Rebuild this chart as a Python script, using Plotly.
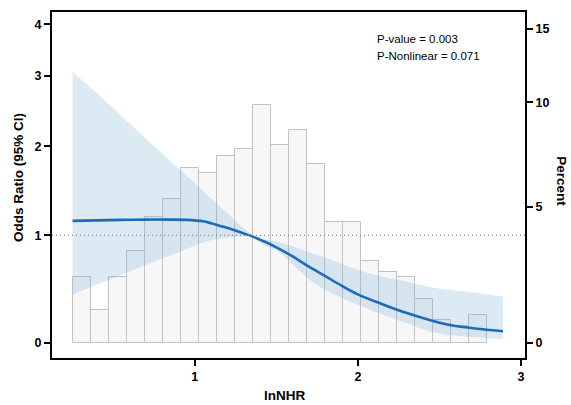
import plotly.graph_objects as go

# ---------------- data ----------------
# histogram of lnNHR (percent per bin)
bin_start = 0.254
bin_width = 0.1103
pct_values = [2.27, 1.12, 2.27, 3.23, 4.59, 5.34, 6.67, 6.47, 7.24, 7.60, 9.82, 7.79,
              8.52, 6.86, 4.38, 4.38, 2.85, 2.45, 2.27, 1.50, 0.76, 0.57, 0.95]

# RCS curve: odds ratio and 95% CI
x_curve = [0.25, 0.40, 0.55, 0.70, 0.85, 0.95, 1.05, 1.10, 1.15, 1.23, 1.30, 1.36, 1.43,
           1.50, 1.60, 1.70, 1.80, 1.90, 2.00, 2.15, 2.30, 2.45, 2.60, 2.75, 2.89]
or_curve = [1.150, 1.155, 1.160, 1.163, 1.163, 1.160, 1.145, 1.125, 1.100, 1.060, 1.020, 0.985, 0.935,
            0.880, 0.790, 0.690, 0.600, 0.510, 0.430, 0.340, 0.260, 0.195, 0.145, 0.120, 0.100]

x_ci = [0.25, 0.40, 0.55, 0.70, 0.85, 1.00, 1.10, 1.20, 1.30, 1.36, 1.43, 1.52, 1.64,
        1.72, 1.80, 2.05, 2.30, 2.46, 2.70, 2.89]
or_upper = [3.07, 2.73, 2.40, 2.10, 1.82, 1.56, 1.39, 1.23, 1.07, 1.00, 0.96, 0.93, 0.867,
            0.82, 0.777, 0.635, 0.548, 0.494, 0.449, 0.41]
or_lower = [0.426, 0.52, 0.614, 0.707, 0.80, 0.896, 0.95, 0.975, 0.985, 0.975, 0.90, 0.827, 0.654,
            0.546, 0.47, 0.304, 0.17, 0.092, 0.05, 0.031]

or_ticks = [0, 1, 2, 3, 4]
pct_ticks = [0, 5, 10, 15]
x_ticks = [1, 2, 3]
p_value = "0.003"
p_nonlinear = "0.071"

# ---------------- shared vertical scale ----------------
# both y axes share one (slightly compressive) scale; OR is expressed in percent units
OR_TO_PCT = 3.85


def scale_pct(p):
    return 30.48 * p - 0.628 * p * p


def scale_or(o):
    return scale_pct(OR_TO_PCT * o)


bin_centers = [bin_start + bin_width * (i + 0.5) for i in range(len(pct_values))]

FONT = "Liberation Sans, Arial, Helvetica, sans-serif"
fig = go.Figure()

fig.add_trace(go.Bar(
    x=bin_centers, y=[scale_pct(v) for v in pct_values], width=bin_width,
    marker=dict(color="#f7f7f8", line=dict(color="#c2c2c4", width=1)),
    showlegend=False, hoverinfo="skip"))

fig.add_trace(go.Scatter(
    x=x_ci, y=[scale_or(v) for v in or_upper], mode="lines",
    line=dict(width=0, shape="spline"), showlegend=False, hoverinfo="skip"))
fig.add_trace(go.Scatter(
    x=x_ci, y=[scale_or(v) for v in or_lower], mode="lines",
    line=dict(width=0, shape="spline"), fill="tonexty",
    fillcolor="rgba(120,172,212,0.26)", showlegend=False, hoverinfo="skip"))

fig.add_trace(go.Scatter(
    x=x_curve, y=[scale_or(v) for v in or_curve], mode="lines",
    line=dict(color="#1b6cb4", width=2.6, shape="spline"), showlegend=False))

# empty trace so the right axis is rendered
fig.add_trace(go.Scatter(x=[None], y=[None], yaxis="y2", showlegend=False, hoverinfo="skip"))

yr = [-15.3, 332.7]

fig.add_shape(type="line", xref="paper", x0=0, x1=1, yref="y", y0=scale_or(1), y1=scale_or(1),
              line=dict(color="#8a8a8a", width=1.1, dash="1px,3px"), layer="above")

fig.update_layout(
    width=571, height=405,
    margin=dict(l=52, r=46, t=10, b=47),
    paper_bgcolor="white", plot_bgcolor="white",
    font=dict(family=FONT, color="black"),
    bargap=0,
    xaxis=dict(range=[0.124, 3.025], tickvals=x_ticks, ticktext=[str(t) for t in x_ticks],
               showline=True, linecolor="black", linewidth=2, mirror=True,
               ticks="outside", ticklen=6, tickwidth=2, tickcolor="black",
               showgrid=False, zeroline=False,
               tickfont=dict(size=12.5, weight="bold", family=FONT)),
    yaxis=dict(range=yr, tickvals=[scale_or(v) for v in or_ticks], ticktext=[str(t) for t in or_ticks],
               showline=True, linecolor="black", linewidth=2,
               ticks="outside", ticklen=6, tickwidth=2, tickcolor="black",
               showgrid=False, zeroline=False,
               tickfont=dict(size=12.5, weight="bold", family=FONT)),
    yaxis2=dict(range=yr, overlaying="y", side="right",
                tickvals=[scale_pct(v) for v in pct_ticks], ticktext=[str(t) for t in pct_ticks],
                showline=True, linecolor="black", linewidth=2,
                ticks="outside", ticklen=6, tickwidth=2, tickcolor="black",
                showgrid=False, zeroline=False,
                tickfont=dict(size=12.5, weight="bold", family=FONT)),
    annotations=[
        dict(text="Odds Ratio (95% CI)", xref="paper", yref="paper", x=-0.072, y=0.523,
             textangle=-90, showarrow=False, font=dict(size=13.5, weight="bold", family=FONT),
             xanchor="center", yanchor="middle"),
        dict(text="Percent", xref="paper", yref="paper", x=1.078, y=0.511,
             textangle=90, showarrow=False, font=dict(size=13.5, weight="bold", family=FONT),
             xanchor="center", yanchor="middle"),
        dict(text="lnNHR", xref="paper", yref="paper", x=0.492, y=-0.109,
             showarrow=False, font=dict(size=13.5, weight="bold", family=FONT),
             xanchor="center", yanchor="middle"),
        dict(text="P-value = " + p_value, xref="paper", yref="paper", x=0.683, y=0.922,
             showarrow=False, font=dict(size=11.5, family=FONT),
             xanchor="left", yanchor="middle"),
        dict(text="P-Nonlinear = " + p_nonlinear, xref="paper", yref="paper", x=0.683, y=0.874,
             showarrow=False, font=dict(size=11.5, family=FONT),
             xanchor="left", yanchor="middle"),
    ],
)

fig.write_html("out.html", config={"displayModeBar": False},
               post_script="document.body.style.margin='0';document.body.style.overflow='hidden';")
